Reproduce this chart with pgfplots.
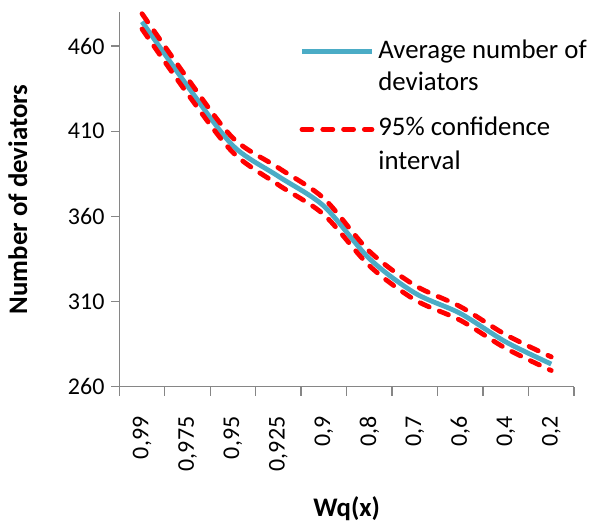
\documentclass[border=0pt]{standalone}
\usepackage{fontspec}
\setmainfont{Carlito}
\usepackage{pgfplots}
\usepackage{pgfplotstable}
\pgfplotsset{compat=1.18}

\definecolor{avgblue}{HTML}{4BACC6}
\definecolor{axisgray}{HTML}{868686}
\newcommand\tickfont{\fontsize{12bp}{16bp}\selectfont}
\newcommand\chartfont{\fontsize{13.4bp}{16bp}\selectfont}

% Number of deviators per Wq(x) level: mean and 95% confidence bounds
\pgfplotstableread{
x   avg    upper  lower
1   474.3  479.0  470.0
2   436.5  441.0  432.0
3   401.5  406.0  397.5
4   383.5  388.5  378.5
5   366.0  370.5  361.0
6   335.2  339.5  331.0
7   315.0  319.5  311.0
8   303.0  307.0  299.0
9   286.3  290.5  282.5
10  273.3  277.5  269.5
}\devtable

\begin{document}
\begin{tikzpicture}
\useasboundingbox (-59.65bp,-69.15bp) rectangle (235.35bp,193.35bp);
\begin{axis}[
  at={(0,0)}, anchor=south west,
  scale only axis, width=227.35bp, height=187.35bp,
  xmin=0.5, xmax=10.5, ymin=260, ymax=480,
  clip=false,
  axis lines=left,
  axis line style={-, axisgray, line width=0.7bp},
  xtick={1,...,10},
  xticklabels={{0,99},{0,975},{0,95},{0,925},{0,9},{0,8},{0,7},{0,6},{0,4},{0,2}},
  minor xtick={0.5,1.5,...,10.5},
  major x tick style={draw=none},
  ytick={260,310,360,410,460},
  tick align=outside,
  tick style={axisgray, line width=0.7bp},
  major tick length=3.9bp, minor tick length=4.5bp,
  /pgf/number format/assume math mode=true,
  tick label style={font=\tickfont, black},
  xticklabel style={rotate=90, anchor=east},
  xticklabel shift=7.5bp,
  label style={font=\chartfont\bfseries},
  xlabel={Wq(x)},
  ylabel={Number of deviators},
  xlabel style={at={(axis description cs:0.5,-0.326)}, anchor=center},
  ylabel style={at={(axis description cs:-0.223,0.5)}, anchor=center},
  legend style={draw=none, fill=none, font=\chartfont,
    at={(rel axis cs:0.3956,0.936)}, anchor=north west,
    inner sep=0pt, nodes={inner sep=0pt},
    cells={anchor=base west},
    column sep=2bp, row sep=0pt},
  legend image code/.code={\draw[#1] (0bp,3.3bp) -- (35bp,3.3bp);},
]
\addplot[avgblue, line width=2.4bp, smooth] table[x=x, y=avg] {\devtable};
\addlegendentry{\rule{0pt}{11bp}Average number of}
\addlegendimage{empty legend}
\addlegendentry{\rule{0pt}{14.5bp}deviators}
\addplot[red, line width=2.4bp, line cap=round, dash pattern=on 5bp off 5.4bp, smooth] table[x=x, y=upper] {\devtable};
\addlegendentry{\rule{0pt}{21.3bp}95\% confidence}
\addlegendimage{empty legend}
\addlegendentry{\rule{0pt}{15.3bp}interval}
\addplot[red, line width=2.4bp, line cap=round, dash pattern=on 5bp off 5.4bp, smooth, forget plot] table[x=x, y=lower] {\devtable};
\end{axis}
\end{tikzpicture}
\end{document}
